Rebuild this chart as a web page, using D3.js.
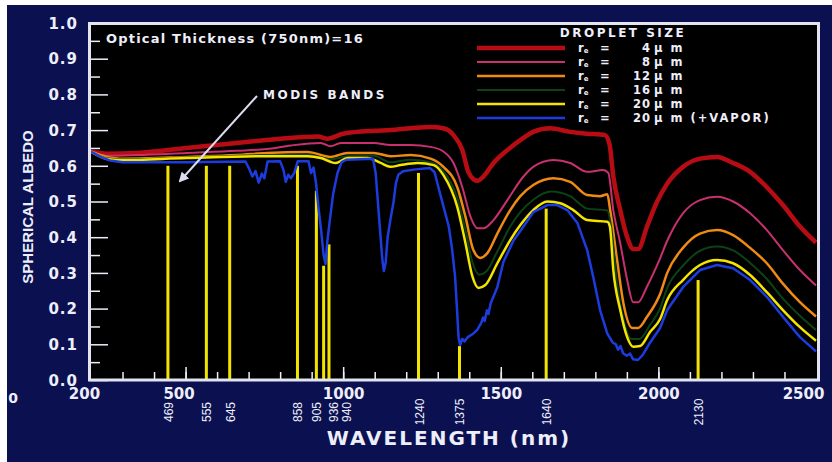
<!DOCTYPE html>
<html>
<head>
<meta charset="utf-8">
<script src="https://cdn.jsdelivr.net/npm/d3@7"></script>
<style>
  body { margin: 0; background: #fff; }
  svg { display: block; }
</style>
</head>
<body>
<script>
// droplet sizes (legend) and series
const sizeLabels = ["4", "8", "12", "16", "20", "20"];
const sizeNotes = ["", "", "", "", "", " (+VAPOR)"];

// [wavelength nm, spherical albedo]
const re4 = [[200,0.64],[250,0.634],[346,0.636],[504,0.65],[662,0.664],[757,0.672],[865,0.68],[920,0.682],[950,0.676],[1000,0.69],[1100,0.698],[1150,0.7],[1214,0.705],[1277,0.709],[1318,0.705],[1350,0.686],[1378,0.644],[1397,0.583],[1414,0.562],[1426,0.558],[1445,0.57],[1477,0.608],[1521,0.644],[1572,0.678],[1603,0.695],[1657,0.705],[1720,0.695],[1774,0.69],[1831,0.686],[1845,0.66],[1857,0.57],[1879,0.476],[1901,0.40],[1920,0.367],[1936,0.367],[1964,0.43],[1996,0.5],[2028,0.55],[2078,0.597],[2132,0.62],[2186,0.625],[2237,0.608],[2291,0.583],[2344,0.54],[2395,0.49],[2449,0.43],[2500,0.385]];
const re8 = [[200,0.64],[250,0.628],[346,0.63],[504,0.636],[662,0.642],[757,0.647],[834,0.657],[929,0.664],[960,0.655],[992,0.664],[1097,0.664],[1150,0.658],[1214,0.658],[1277,0.653],[1318,0.64],[1350,0.608],[1378,0.54],[1404,0.457],[1426,0.425],[1445,0.425],[1477,0.448],[1521,0.504],[1572,0.57],[1603,0.597],[1667,0.616],[1720,0.608],[1774,0.583],[1825,0.588],[1841,0.58],[1857,0.476],[1879,0.383],[1901,0.28],[1920,0.218],[1936,0.218],[1964,0.262],[2005,0.34],[2028,0.39],[2078,0.467],[2132,0.504],[2186,0.513],[2237,0.50],[2291,0.467],[2344,0.42],[2395,0.364],[2449,0.308],[2500,0.265]];
const re12 = [[200,0.64],[250,0.625],[292,0.62],[504,0.625],[662,0.63],[757,0.636],[887,0.639],[960,0.625],[1014,0.636],[1097,0.636],[1150,0.627],[1214,0.63],[1277,0.62],[1318,0.597],[1362,0.54],[1388,0.457],[1413,0.364],[1435,0.342],[1458,0.356],[1489,0.41],[1530,0.476],[1562,0.515],[1603,0.546],[1667,0.565],[1720,0.555],[1774,0.518],[1815,0.515],[1838,0.52],[1847,0.476],[1869,0.336],[1889,0.215],[1917,0.146],[1936,0.146],[1964,0.177],[2005,0.24],[2028,0.30],[2078,0.37],[2132,0.41],[2186,0.42],[2237,0.406],[2291,0.37],[2344,0.327],[2395,0.27],[2449,0.218],[2500,0.178]];
const re16 = [[200,0.64],[250,0.621],[292,0.618],[504,0.623],[757,0.63],[887,0.631],[960,0.618],[1014,0.627],[1097,0.628],[1150,0.61],[1214,0.617],[1277,0.61],[1318,0.585],[1362,0.51],[1388,0.42],[1410,0.33],[1432,0.295],[1455,0.305],[1489,0.36],[1530,0.43],[1562,0.47],[1603,0.505],[1660,0.528],[1720,0.515],[1774,0.48],[1838,0.475],[1850,0.43],[1869,0.27],[1889,0.17],[1915,0.115],[1940,0.115],[1974,0.155],[2005,0.2],[2028,0.258],[2078,0.32],[2132,0.362],[2186,0.374],[2237,0.363],[2291,0.328],[2344,0.283],[2395,0.228],[2449,0.18],[2500,0.14]];
const re20 = [[200,0.64],[250,0.619],[292,0.616],[504,0.622],[757,0.627],[887,0.627],[929,0.622],[976,0.608],[1014,0.622],[1077,0.622],[1119,0.608],[1150,0.597],[1182,0.602],[1236,0.608],[1287,0.602],[1318,0.574],[1362,0.485],[1388,0.383],[1410,0.29],[1429,0.258],[1451,0.266],[1489,0.327],[1530,0.392],[1562,0.434],[1603,0.476],[1648,0.50],[1689,0.495],[1730,0.476],[1774,0.448],[1838,0.443],[1846,0.43],[1857,0.308],[1879,0.196],[1901,0.12],[1920,0.093],[1942,0.095],[1974,0.135],[2005,0.17],[2028,0.224],[2078,0.28],[2132,0.322],[2186,0.336],[2237,0.327],[2291,0.294],[2344,0.246],[2395,0.196],[2449,0.148],[2500,0.11]];
const re20vap = [[200,0.64],[230,0.625],[260,0.615],[300,0.61],[500,0.61],[690,0.612],[700,0.595],[712,0.57],[722,0.585],[732,0.553],[742,0.578],[750,0.565],[760,0.612],[800,0.613],[810,0.59],[818,0.555],[826,0.575],[834,0.565],[845,0.58],[856,0.613],[890,0.613],[898,0.58],[906,0.595],[914,0.55],[922,0.48],[930,0.42],[938,0.35],[944,0.325],[950,0.39],[958,0.45],[968,0.52],[982,0.58],[995,0.61],[1010,0.617],[1095,0.62],[1103,0.58],[1110,0.5],[1117,0.42],[1124,0.34],[1129,0.305],[1135,0.33],[1141,0.4],[1150,0.45],[1160,0.5],[1167,0.55],[1175,0.575],[1190,0.585],[1230,0.59],[1275,0.594],[1290,0.582],[1305,0.53],[1320,0.48],[1335,0.43],[1345,0.37],[1355,0.29],[1361,0.2],[1366,0.12],[1371,0.098],[1378,0.115],[1385,0.108],[1395,0.12],[1410,0.128],[1425,0.14],[1438,0.16],[1444,0.175],[1449,0.165],[1456,0.195],[1461,0.185],[1468,0.215],[1489,0.26],[1508,0.33],[1540,0.39],[1572,0.43],[1603,0.47],[1648,0.49],[1679,0.49],[1711,0.476],[1743,0.44],[1774,0.364],[1793,0.29],[1815,0.196],[1838,0.13],[1855,0.105],[1865,0.1],[1872,0.085],[1880,0.095],[1888,0.075],[1900,0.068],[1910,0.074],[1920,0.058],[1935,0.056],[1950,0.07],[1970,0.1],[2005,0.145],[2028,0.196],[2078,0.26],[2132,0.308],[2186,0.322],[2237,0.313],[2291,0.28],[2344,0.233],[2395,0.177],[2449,0.12],[2500,0.08]];

// MODIS bands: label, drawn position (nm), line top (albedo)
const bandLabels = ["469", "555", "645", "858", "905", "936", "940", "1240", "1375", "1640", "2130"];
const bandPos = [444, 566, 640, 855, 915, 938, 955, 1239, 1369, 1644, 2126];
const bandTop = [0.6, 0.6, 0.6, 0.6, 0.53, 0.32, 0.38, 0.58, 0.095, 0.48, 0.28];

const xTickLabels = [200, 500, 1000, 1500, 2000, 2500];
const yTickLabels = [0, 0.1, 0.2, 0.3, 0.4, 0.5, 0.6, 0.7, 0.8, 0.9, 1.0];

init();

function init() {
  let W = 832, H = 462;
  let svg = d3.select("body").append("svg")
              .attr("width", W).attr("height", H);

  let x = d3.scaleLinear().domain([200, 2500]).range([91, 816]);
  let y = d3.scaleLinear().domain([0, 1]).range([380, 23]);

  let ink = "#eeeefa";

  // navy panel and black plot
  svg.append("rect").attr("x", 7).attr("y", 5).attr("width", W - 7).attr("height", H - 5)
     .attr("fill", "#0b1150");
  svg.append("rect").attr("x", 89.5).attr("y", 23.5).attr("width", 729).attr("height", 356.5)
     .attr("fill", "#000");

  // ticks inside the plot
  svg.append("g").attr("transform", "translate(90,0)")
     .call(d3.axisRight(y).tickValues(d3.range(0.05, 1, 0.1)).tickSize(10).tickFormat(""))
     .call(g => g.select(".domain").remove())
     .selectAll("line").attr("stroke", ink).attr("stroke-width", 1.5);
  svg.append("g").attr("transform", "translate(90,0)")
     .call(d3.axisRight(y).tickValues(yTickLabels).tickSize(18).tickFormat(""))
     .call(g => g.select(".domain").remove())
     .selectAll("line").attr("stroke", ink).attr("stroke-width", 1.5);
  svg.append("g").attr("transform", "translate(0,380)")
     .call(d3.axisTop(x).tickValues(d3.range(300, 2500, 100)).tickSize(8).tickFormat(""))
     .call(g => g.select(".domain").remove())
     .selectAll("line").attr("stroke", ink).attr("stroke-width", 1.5);
  svg.append("g").attr("transform", "translate(0,380)")
     .call(d3.axisTop(x).tickValues([500, 1000, 1500, 2000]).tickSize(13).tickFormat(""))
     .call(g => g.select(".domain").remove())
     .selectAll("line").attr("stroke", ink).attr("stroke-width", 1.5);

  // MODIS band lines
  svg.append("g").selectAll("line")
     .data(bandPos)
     .enter().append("line")
     .attr("x1", d => x(d)).attr("x2", d => x(d))
     .attr("y1", y(0)).attr("y2", (d, i) => y(bandTop[i]))
     .attr("stroke", "#f2e400").attr("stroke-width", 3);

  // curves
  let series = [
    {data: re4, color: "#b80c14", w: 4.5},
    {data: re8, color: "#c8306e", w: 2},
    {data: re12, color: "#f08a12", w: 2.5},
    {data: re16, color: "#0c4214", w: 2},
    {data: re20, color: "#f4e400", w: 2.5},
    {data: re20vap, color: "#1d3ce0", w: 2.5}
  ];

  let smooth = d3.line().x(d => x(d[0])).y(d => y(d[1])).curve(d3.curveMonotoneX);
  let jag = d3.line().x(d => x(d[0])).y(d => y(d[1]));

  svg.append("g").selectAll("path")
     .data(series)
     .enter().append("path")
     .attr("d", (d, i) => i == 5 ? jag(d.data) : smooth(d.data))
     .attr("fill", "none")
     .attr("stroke", d => d.color)
     .attr("stroke-width", d => d.w)
     .attr("stroke-linejoin", "round");

  // plot frame
  svg.append("rect").attr("x", 89.5).attr("y", 23.5).attr("width", 729).attr("height", 356.5)
     .attr("fill", "none").attr("stroke", "#e4e4f0").attr("stroke-width", 3);

  // axis labels
  svg.append("g").attr("transform", "translate(90,0)")
     .call(d3.axisLeft(y).tickValues(yTickLabels).tickSize(0).tickPadding(12).tickFormat(d3.format(".1f")))
     .call(g => g.select(".domain").remove())
     .selectAll("text")
     .attr("fill", ink).attr("font-family", "DejaVu Sans").attr("font-weight", "bold")
     .attr("font-size", 15).attr("letter-spacing", 1).attr("dy", "0.35em");

  let xl = svg.append("g").attr("transform", "translate(0,380)")
     .call(d3.axisBottom(x).tickValues(xTickLabels).tickSize(0).tickPadding(8).tickFormat(d3.format("d")));
  xl.select(".domain").remove();
  xl.selectAll("text")
    .attr("fill", ink).attr("font-family", "DejaVu Sans").attr("font-weight", "bold")
    .attr("font-size", 15)
    .attr("dx", (d, i) => i < 2 ? -7 : (i == 5 ? -13 : 0));

  svg.append("text").attr("x", 13).attr("y", 398)
     .attr("fill", ink).attr("font-family", "DejaVu Sans").attr("font-weight", "bold")
     .attr("font-size", 14).attr("text-anchor", "middle").attr("dominant-baseline", "central")
     .text("0");

  // band labels
  let labelShift = {"936": 9, "940": 17};
  svg.append("g").selectAll("text")
     .data(bandLabels)
     .enter().append("text")
     .attr("transform", (d, i) => "translate(" + (x(bandPos[i]) + 1 + (labelShift[d] || 0)) + ",412) rotate(-90)")
     .attr("text-anchor", "middle").attr("dominant-baseline", "central")
     .attr("fill", ink).attr("font-family", "Liberation Sans, Arial").attr("font-size", 12)
     .text(d => d);

  svg.append("text").attr("x", 449).attr("y", 438)
     .attr("text-anchor", "middle").attr("dominant-baseline", "central")
     .attr("fill", ink).attr("font-family", "DejaVu Sans").attr("font-weight", "bold")
     .attr("font-size", 20).attr("letter-spacing", 2)
     .text("WAVELENGTH (nm)");

  svg.append("text")
     .attr("transform", "translate(27,207) rotate(-90)")
     .attr("text-anchor", "middle").attr("dominant-baseline", "central")
     .attr("fill", ink).attr("font-family", "Liberation Sans, Arial").attr("font-weight", "bold")
     .attr("font-size", 15)
     .text("SPHERICAL ALBEDO");

  // annotations
  svg.append("text").attr("x", 106).attr("y", 38)
     .attr("dominant-baseline", "central")
     .attr("fill", ink).attr("font-family", "DejaVu Sans").attr("font-weight", "bold")
     .attr("font-size", 13).attr("letter-spacing", 1.2)
     .text("Optical Thickness (750nm)=16");

  svg.append("text").attr("x", 263).attr("y", 95)
     .attr("dominant-baseline", "central")
     .attr("fill", ink).attr("font-family", "DejaVu Sans").attr("font-weight", "bold")
     .attr("font-size", 12).attr("letter-spacing", 2.5)
     .text("MODIS BANDS");

  svg.append("defs").append("marker")
     .attr("id", "head").attr("viewBox", "0 0 10 10")
     .attr("refX", 8).attr("refY", 5)
     .attr("markerWidth", 5).attr("markerHeight", 5)
     .attr("orient", "auto")
     .append("path").attr("d", "M0,0 L10,5 L0,10 z").attr("fill", "#dcdcf0");
  svg.append("line").attr("x1", 257).attr("y1", 96).attr("x2", 180).attr("y2", 181)
     .attr("stroke", "#dcdcf0").attr("stroke-width", 2)
     .attr("marker-end", "url(#head)");

  // legend
  let legend = svg.append("g");
  legend.append("text").attr("x", 623).attr("y", 33)
     .attr("text-anchor", "middle").attr("dominant-baseline", "central")
     .attr("fill", ink).attr("font-family", "DejaVu Sans").attr("font-weight", "bold")
     .attr("font-size", 12).attr("letter-spacing", 2.5)
     .text("DROPLET SIZE");

  let rows = legend.selectAll(".row")
     .data(series)
     .enter().append("g")
     .attr("class", "row")
     .attr("transform", (d, i) => "translate(0," + (48 + i * 14) + ")");

  rows.append("line").attr("x1", 477).attr("x2", 565)
      .attr("stroke", d => d.color).attr("stroke-width", d => d.w);

  let rt = rows.append("text").attr("x", 578)
      .attr("dominant-baseline", "central")
      .attr("fill", ink).attr("font-family", "DejaVu Sans").attr("font-weight", "bold")
      .attr("font-size", 11.5);
  rt.append("tspan").text("r");
  rt.append("tspan").attr("font-size", 7).attr("dy", 3).text("e");

  rows.append("text").attr("x", 600)
      .attr("dominant-baseline", "central")
      .attr("fill", ink).attr("font-family", "DejaVu Sans").attr("font-weight", "bold")
      .attr("font-size", 11.5).text("=");

  rows.append("text").attr("x", 651)
      .attr("text-anchor", "end").attr("dominant-baseline", "central")
      .attr("fill", ink).attr("font-family", "DejaVu Sans").attr("font-weight", "bold")
      .attr("font-size", 11.5).attr("letter-spacing", 1)
      .text((d, i) => sizeLabels[i]);

  rows.append("text").attr("x", 654)
      .attr("dominant-baseline", "central")
      .attr("fill", ink).attr("font-family", "DejaVu Sans").attr("font-weight", "bold")
      .attr("font-size", 11.5).attr("letter-spacing", 2)
      .text((d, i) => "\u03bc m" + sizeNotes[i]);
}
</script>
</body>
</html>
